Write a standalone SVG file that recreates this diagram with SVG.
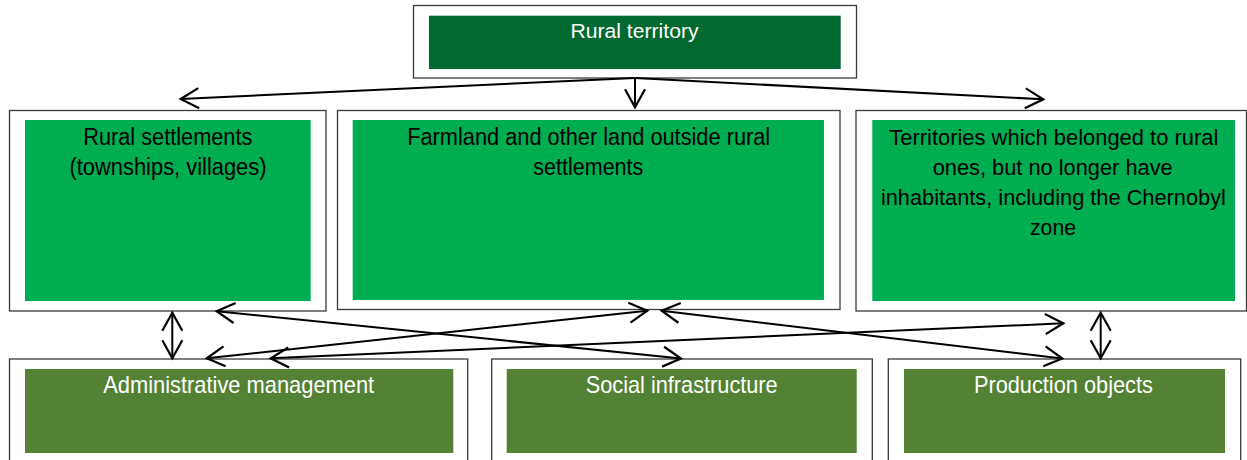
<svg xmlns="http://www.w3.org/2000/svg" width="1247" height="460" viewBox="0 0 1247 460">
<style>
.outer{fill:#fff;stroke:#3a3a3a;stroke-width:1.3}
.top{fill:#026A31}
.mid{fill:#00AD50}
.bot{fill:#548235}
.t{font-family:"Liberation Sans",Arial,sans-serif;text-anchor:middle}
.tw{fill:#fff}
.tb{fill:#000}
.c{stroke:#000;stroke-width:2;fill:none}
</style>
<defs>
<marker id="ah" markerUnits="userSpaceOnUse" markerWidth="24" markerHeight="24" viewBox="-20 -12 22 24" refX="0" refY="0" orient="auto-start-reverse" overflow="visible">
<path d="M-18,-10 L0,0 L-18,10" fill="none" stroke="#000" stroke-width="2.2"/>
</marker>
</defs>
<rect width="1247" height="460" fill="#fff"/>
<g id="node-rural-territory">
<rect class="outer" x="413.5" y="5.5" width="443" height="72.5"/>
<rect class="top" x="429" y="15.7" width="411.7" height="53.3"/>
<text class="t tw" x="634.5" y="38.3" font-size="20.5" textLength="128" lengthAdjust="spacingAndGlyphs">Rural territory</text>
</g>
<g id="node-rural-settlements">
<rect class="outer" x="9.5" y="110.5" width="316.5" height="200.5"/>
<rect class="mid" x="25" y="120" width="285.7" height="181"/>
<text class="t tb" font-size="23.5"><tspan x="167.8" y="145" textLength="169" lengthAdjust="spacingAndGlyphs">Rural settlements</tspan><tspan x="168" y="174.5" textLength="197" lengthAdjust="spacingAndGlyphs">(townships, villages)</tspan></text>
</g>
<g id="node-farmland">
<rect class="outer" x="337.5" y="110.5" width="502.5" height="199"/>
<rect class="mid" x="352.7" y="120" width="471.3" height="180"/>
<text class="t tb" font-size="23.5"><tspan x="588.7" y="145" textLength="363" lengthAdjust="spacingAndGlyphs">Farmland and other land outside rural</tspan><tspan x="588.3" y="174.5" textLength="110" lengthAdjust="spacingAndGlyphs">settlements</tspan></text>
</g>
<g id="node-territories">
<rect class="outer" x="856" y="110.5" width="390.5" height="200.5"/>
<rect class="mid" x="872.3" y="120" width="362.7" height="181"/>
<text class="t tb" font-size="22.5"><tspan x="1053.8" y="145" textLength="329" lengthAdjust="spacingAndGlyphs">Territories which belonged to rural</tspan><tspan x="1052.7" y="174.5" textLength="240" lengthAdjust="spacingAndGlyphs">ones, but no longer have</tspan><tspan x="1053.4" y="205" textLength="345" lengthAdjust="spacingAndGlyphs">inhabitants, including the Chernobyl</tspan><tspan x="1053" y="235" textLength="46" lengthAdjust="spacingAndGlyphs">zone</tspan></text>
</g>
<g id="node-administrative">
<rect class="outer" x="9.5" y="359" width="458.2" height="110"/>
<rect class="bot" x="25" y="369" width="428.3" height="84"/>
<text class="t tw" x="238.7" y="393.3" font-size="24" textLength="271" lengthAdjust="spacingAndGlyphs">Administrative management</text>
</g>
<g id="node-social">
<rect class="outer" x="491.7" y="359" width="380.6" height="110"/>
<rect class="bot" x="506.7" y="369" width="350" height="84"/>
<text class="t tw" x="681.7" y="393.3" font-size="24" textLength="192" lengthAdjust="spacingAndGlyphs">Social infrastructure</text>
</g>
<g id="node-production">
<rect class="outer" x="888.3" y="359" width="352.4" height="110"/>
<rect class="bot" x="904" y="369" width="321" height="84"/>
<text class="t tw" x="1063.4" y="393.3" font-size="24" textLength="179" lengthAdjust="spacingAndGlyphs">Production objects</text>
</g>
<g id="connectors">
<line class="c" x1="635" y1="78" x2="180.7" y2="99" marker-end="url(#ah)"/>
<line class="c" x1="635" y1="78" x2="635" y2="107.3" marker-end="url(#ah)"/>
<line class="c" x1="635" y1="78" x2="1043.3" y2="99.3" marker-end="url(#ah)"/>
<line class="c" x1="172.3" y1="312.7" x2="172.3" y2="358.3" marker-start="url(#ah)" marker-end="url(#ah)"/>
<line class="c" x1="1100.7" y1="312.7" x2="1100.7" y2="358.3" marker-start="url(#ah)" marker-end="url(#ah)"/>
<line class="c" x1="216.7" y1="311.2" x2="681" y2="358.5" marker-start="url(#ah)" marker-end="url(#ah)"/>
<line class="c" x1="206.7" y1="358.3" x2="647.3" y2="310.7" marker-start="url(#ah)" marker-end="url(#ah)"/>
<line class="c" x1="270.7" y1="358.3" x2="1063.3" y2="323.3" marker-start="url(#ah)" marker-end="url(#ah)"/>
<line class="c" x1="661.7" y1="310.7" x2="1062.3" y2="358.5" marker-start="url(#ah)" marker-end="url(#ah)"/>
</g>
</svg>
